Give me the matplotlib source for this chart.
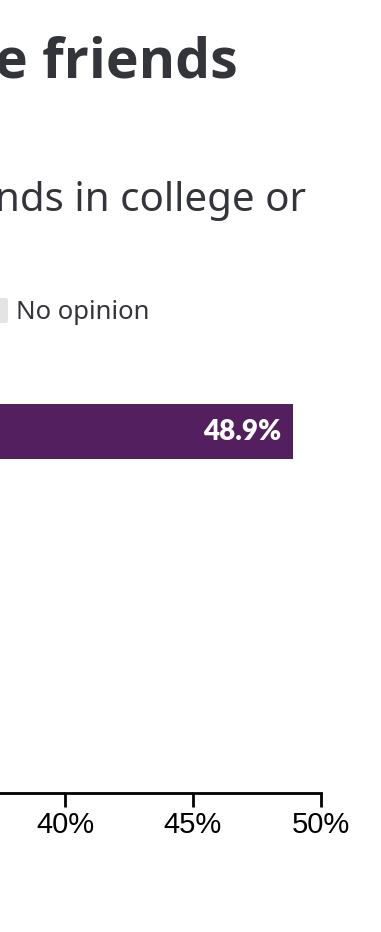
import matplotlib
matplotlib.use("Agg")
import matplotlib.pyplot as plt
from matplotlib.patches import FancyBboxPatch

# ---- data ----
title_text = "e friends"
subtitle_text = "nds in college or"
legend_label = "No opinion"
categories = ["Agree"]
values = [48.9]
tick_values = [40, 45, 50]
tick_labels = ["40%", "45%", "50%"]

BAR_COLOR = "#541f5e"
TEXT_COLOR = "#33353a"
SWATCH_COLOR = "#e4e4e4"

W, H = 381, 932
fig = plt.figure(figsize=(W / 100, H / 100), dpi=100)

def fx(px):
    return px / W

def fy(py):
    return 1 - py / H

# title / subtitle (cropped on the left in the reference)
fig.text(fx(238), fy(78), title_text, ha="right", va="baseline",
         fontsize=40, fontweight="bold", color=TEXT_COLOR, family="Open Sans")
fig.text(fx(306), fy(211), subtitle_text, ha="right", va="baseline",
         fontsize=29, color=TEXT_COLOR, family="Noto Sans")

# legend entry
fig.patches.append(FancyBboxPatch((fx(-20), fy(323)), fx(28), 25 / H,
                                  boxstyle="round,pad=0,rounding_size=0.004",
                                  transform=fig.transFigure, facecolor=SWATCH_COLOR,
                                  edgecolor="none"))
fig.text(fx(16), fy(319), legend_label, ha="left", va="baseline",
         fontsize=18.5, color=TEXT_COLOR, family="Noto Sans")

# axes
ax_top, ax_bot = 376, 793
ax = fig.add_axes([0, fy(ax_bot), fx(321), (ax_bot - ax_top) / H])
xmin = 40 - 65 / 25.6
ax.set_xlim(xmin, 50)
span = (ax_bot - ax_top) / 100
ax.set_ylim(0.555 - span, 0.555)

ypos = list(range(len(categories)))
ax.barh(ypos, values, height=0.55, color=BAR_COLOR, zorder=2)
for y, v in zip(ypos, values):
    ax.text(v - 0.45, y, f"{v:.1f}%", ha="right", va="center", color="white",
            fontsize=20, fontweight="heavy", family="Lato")

ax.set_xticks(tick_values)
ax.set_xticklabels(tick_labels, family="Liberation Sans", fontsize=21, color="black")
ax.tick_params(axis="x", length=10, width=2, color="black", pad=3)
ax.set_yticks([])
for s in ["top", "right", "left"]:
    ax.spines[s].set_visible(False)
ax.spines["bottom"].set_linewidth(2)
ax.spines["bottom"].set_color("black")
ax.patch.set_alpha(0)

fig.savefig("out.png", dpi=100)
